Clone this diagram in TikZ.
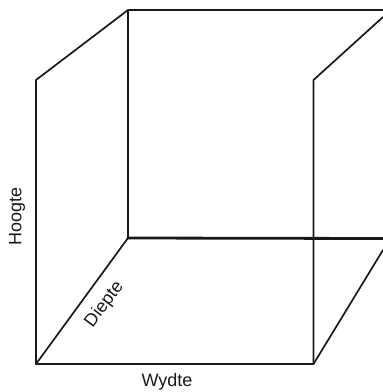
\documentclass[tikz,border=0pt]{standalone}
\usepackage{fontspec}
\setmainfont{Liberation Sans}
\begin{document}
\begin{tikzpicture}[x=1pt, y=-1pt, font=\fontsize{18}{21}\selectfont,
  edge/.style={draw=black!90, line width=1.7pt, line cap=round, line join=round},
  backedge/.style={edge, line width=2.8pt},
  lbl/.style={inner sep=0pt, text=black!90}]
  \useasboundingbox (0,0) rectangle (383,392);
  \coordinate (frontbl) at (36,364);
  \coordinate (fronttl) at (36,80);
  \coordinate (backbl)  at (128,238);
  \coordinate (backtl)  at (128,10);
  \coordinate (frontbr) at (313.5,364);
  \coordinate (fronttr) at (313.5,80);
  \coordinate (backtr)  at (383,10);
  \coordinate (cuttop)  at (383,17);
  \coordinate (backbr)  at (383,238.5);
  \coordinate (cutbot)  at (383,250);
  \draw[edge] (frontbl) -- (fronttl) -- (backtl) -- (backbl) -- cycle;
  \draw[edge] (frontbl) -- (frontbr) -- (fronttr) -- (cuttop);
  \draw[edge] (frontbr) -- (cutbot);
  \draw[edge] (backtl) -- (backtr);
  \draw[backedge] (backbl) -- (backbr);
  \node[lbl, rotate=90] (hoogte) at (17,216) {Hoogte};
  \node[lbl, rotate=53] (diepte) at (104.5,304.5) {Diepte};
  \node[lbl] (wydte) at (167,382) {Wydte};
\end{tikzpicture}
\end{document}
